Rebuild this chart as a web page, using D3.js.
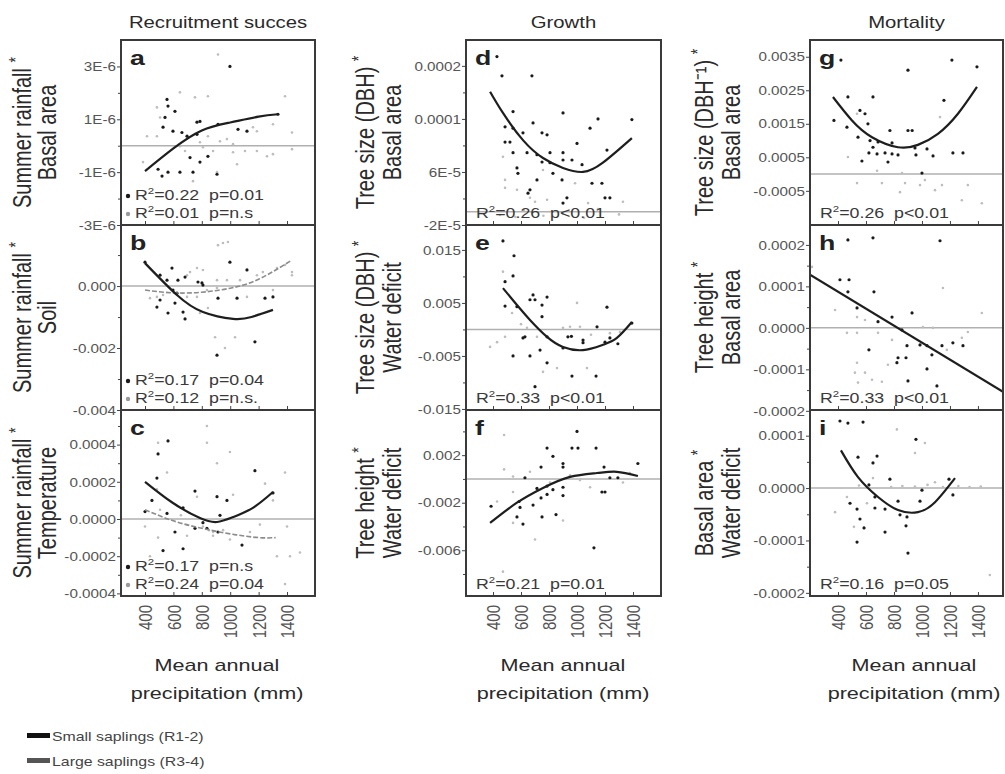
<!DOCTYPE html>
<html>
<head>
<meta charset="utf-8">
<script src="https://cdn.jsdelivr.net/npm/d3@7"></script>
<style>
  body { margin: 0; background: #fff; }
  svg { display: block; font-family: "Liberation Sans", Arial, sans-serif; }
</style>
</head>
<body>
<div id="chart"></div>
<script>
// ---- data: [mean annual precipitation (mm), coefficient] ----
var aSmall = [[998,3.0e-6],[555,1.75e-6],[562,1.5e-6],[611,1.3e-6],[541,1.07e-6],[527,0.7e-6],[597,0.55e-6],[660,0.5e-6],[787,0.92e-6],[766,0.89e-6],[914,0.81e-6],[1055,0.62e-6],[1118,0.55e-6],[1336,1.19e-6],[492,-0.89e-6],[520,-1.15e-6],[562,-1.0e-6],[646,-1.0e-6],[738,-1.0e-6],[717,-0.45e-6],[787,-0.62e-6],[843,-0.4e-6],[907,-1.08e-6],[696,0.36e-6],[766,0.43e-6]];
var aLarge = [[914,3.45e-6],[646,2.02e-6],[752,1.83e-6],[843,1.87e-6],[1386,1.87e-6],[484,1.45e-6],[506,1.07e-6],[414,0.36e-6],[484,0.36e-6],[843,0.36e-6],[977,0.25e-6],[1160,0.7e-6],[1188,0.55e-6],[1301,0.81e-6],[1435,0.5e-6],[386,-0.62e-6],[682,-0.2e-6],[808,-0.06e-6],[879,-0.2e-6],[1020,-0.25e-6],[1104,-0.2e-6],[1188,-0.2e-6],[1259,-0.4e-6],[1301,-0.32e-6],[1435,-0.13e-6],[1048,-0.7e-6],[907,-1.0e-6],[738,-1.34e-6],[1020,0.06e-6],[928,0.17e-6],[787,0.13e-6],[646,-0.02e-6]];
var aFitSmall = [[400,-0.96e-6],[600,-0.1e-6],[800,0.58e-6],[1000,0.88e-6],[1200,1.1e-6],[1336,1.19e-6]];

var bSmall = [[400,0.00077],[590,0.00058],[506,0.00035],[555,0.00019],[632,0.00019],[682,0.00029],[773,0.00013],[808,0.00003],[998,0.00077],[1118,0.00052],[597,-0.00013],[625,-0.00023],[484,-0.00068],[506,-0.00045],[562,-0.00087],[668,-0.00084],[682,-0.00106],[611,-0.00055],[914,-0.00039],[1048,-0.00039],[1245,-0.00039],[1301,-0.00035],[1174,-0.0018],[907,-0.00223],[801,0.0001]];
var bLarge = [[949,0.00139],[984,0.00142],[914,0.00132],[1435,0.00045],[1435,0.00035],[717,0.00045],[766,0.00058],[808,0.00052],[696,0.00035],[907,0.00019],[977,0.00019],[1069,0.00019],[1188,0.00035],[1230,0.00045],[1329,0.00058],[1386,0.00068],[435,-0.00039],[484,-0.00035],[527,-0.00029],[696,-0.00035],[766,-0.00035],[836,-0.00013],[907,-0.00006],[1118,-0.00035],[1301,-0.00013],[843,-0.00071],[893,-0.00165],[963,-0.002],[1034,-0.00165],[787,-0.00087]];
var bFitSmall = [[400,0.00074],[625,-0.00029],[808,-0.00084],[1020,-0.00106],[1150,-0.001],[1301,-0.00077]];
var bFitLarge = [[400,-0.00013],[600,-0.00022],[800,-0.0002],[1000,-0.00007],[1200,0.00022],[1435,0.00084]];

var cSmall = [[492,0.00035],[484,0.00022],[449,0.0001],[400,0.00004],[555,0.00003],[668,0.00006],[752,0.00015],[907,0.00012],[977,0.0001],[928,0.00002],[1174,0.00026],[1301,0.00014],[611,-0.00007],[752,-0.00005],[808,-0.00002],[668,-0.00016],[527,-0.00017],[1083,-0.00014],[836,-0.00005],[914,-0.00007],[562,0.00042]];
var cLarge = [[492,0.00041],[836,0.0005],[836,0.00041],[998,0.00036],[907,0.0003],[555,0.00025],[1386,0.00025],[1245,0.00019],[484,0.00016],[766,0.00012],[1020,0.00013],[1301,0.0001],[506,0.00005],[653,0.00002],[400,-0.00004],[492,-0.0001],[696,-0.00009],[879,-0.00009],[998,-0.00011],[1139,-0.00007],[1209,-0.00003],[1400,-0.00004],[1421,-0.0002],[1491,-0.00018],[1329,-0.0002],[1386,-0.00035],[435,-0.0002],[808,-0.00004],[850,-0.00006],[880,-0.00007],[950,-0.00006]];
var cFitSmall = [[400,0.0002],[597,0.000086],[787,0.000005],[907,-0.000016],[1020,0.00001],[1160,0.00006],[1301,0.000145]];
var cFitLarge = [[400,0.00005],[600,-0.00001],[800,-0.00005],[1000,-0.00008],[1200,-0.0001],[1320,-0.0001]];

var dSmall = [[428,2.34e-4],[464,2.05e-4],[678,2.05e-4],[900,1.49e-4],[543,1.51e-4],[1150,1.4e-4],[1392,1.39e-4],[1093,1.26e-4],[486,1.28e-4],[686,1.34e-4],[543,1.26e-4],[614,1.19e-4],[750,1.19e-4],[786,1.16e-4],[486,1.05e-4],[521,1.05e-4],[1000,1.03e-4],[1214,9.3e-5],[543,8.9e-5],[643,8.9e-5],[714,8.6e-5],[807,8.9e-5],[900,8.9e-5],[900,7.8e-5],[964,7.8e-5],[750,7.5e-5],[807,7.4e-5],[571,6.6e-5],[1036,7.1e-5],[578,5.8e-5],[828,5.8e-5],[714,4.8e-5],[893,4.8e-5],[1107,4.3e-5],[1178,4.3e-5],[664,3.3e-5],[650,2.8e-5],[928,2.1e-5],[1200,2.1e-5],[1235,2.1e-5],[900,1.3e-5]];
var dLarge = [[471,8.3e-5],[486,4.8e-5],[486,3.6e-5],[571,3.3e-5],[757,6.3e-5],[986,4.3e-5],[786,1.8e-5],[1079,1.3e-5],[1328,1.5e-5],[700,1.5e-5],[664,2.1e-5],[450,-0.5e-5],[560,-0.8e-5],[760,-0.6e-5],[900,-0.3e-5],[1050,-0.9e-5],[1300,-0.4e-5],[620,0.2e-5],[1150,0.4e-5]];
var dFitSmall = [[379,1.81e-4],[471,1.49e-4],[614,1.08e-4],[757,8.1e-5],[900,6.6e-5],[1043,6.0e-5],[1185,7.4e-5],[1392,1.11e-4]];

var eSmall = [[471,0.0167],[550,0.0139],[543,0.0101],[486,0.009],[486,0.0044],[571,0.0043],[664,0.0056],[700,0.0056],[686,0.0065],[786,0.0061],[750,0.0046],[750,0.0024],[628,-0.0014],[614,-0.0016],[786,-0.0014],[900,-0.0035],[935,-0.0014],[960,-0.0013],[1043,-0.002],[1043,-0.0025],[1143,0.0005],[1214,0.0042],[1200,-0.0024],[1235,-0.0016],[1292,-0.0027],[1392,0.0012],[543,-0.005],[664,-0.005],[736,-0.0039],[786,-0.0063],[964,-0.0088],[1136,-0.0088],[700,-0.0108]];
var eLarge = [[471,0.0109],[536,0.0031],[1000,0.005],[950,0.0005],[900,0.0003],[1021,0.0005],[379,-0.0033],[429,-0.0024],[486,-0.0014],[714,-0.0014],[757,-0.008],[857,-0.0073],[1071,-0.0073],[1235,-0.0007],[1307,-0.0005],[643,0.0003],[600,0.001],[1100,-0.001]];
var eFitSmall = [[471,0.0078],[571,0.0046],[664,0.0018],[786,-0.0014],[900,-0.0033],[1043,-0.0039],[1185,-0.0029],[1285,-0.0016],[1392,0.0014]];

var fSmall = [[1000,0.004],[786,0.0026],[964,0.0026],[1007,0.0026],[1136,0.0026],[828,0.0019],[900,0.0013],[1435,0.0013],[743,0.001],[1193,0.001],[900,0.001],[628,0.0001],[1235,0.0001],[1292,0.0001],[900,-0.0007],[828,-0.0009],[714,-0.0008],[786,-0.0006],[900,-0.0014],[1178,-0.0011],[1200,-0.0011],[786,-0.0013],[743,-0.0016],[386,-0.0023],[586,-0.0019],[686,-0.0022],[593,-0.0024],[571,-0.0032],[750,-0.0032],[850,-0.003],[614,-0.0038],[1121,-0.0058]];
var fLarge = [[479,0.0037],[479,0.0008],[543,0.0002],[664,0.0006],[543,-0.0011],[429,-0.0019],[543,-0.0037],[700,-0.0051],[471,-0.0078],[900,-0.0035],[1021,-0.0001],[1093,-0.0007],[1328,-0.0003],[1378,0.0005],[950,0.0003],[807,-0.0003]];
var fFitSmall = [[379,-0.0037],[571,-0.002],[757,-0.00076],[950,0.00017],[1143,0.0005],[1285,0.0006],[1435,0.00025]];

var gSmall = [[421,0.0034],[1214,0.0034],[1393,0.0032],[900,0.0031],[471,0.0023],[650,0.0023],[1157,0.0022],[371,0.0016],[557,0.0019],[593,0.0018],[614,0.0015],[464,0.0014],[771,0.0013],[900,0.0013],[930,0.0013],[543,0.0011],[629,0.001],[686,0.00096],[786,0.00093],[650,0.0008],[621,0.00063],[679,0.0006],[736,0.00063],[786,0.0006],[829,0.00057],[757,0.00036],[571,0.00039],[950,0.00078],[957,0.00057],[1036,0.00075],[1079,0.00054],[1221,0.00063],[1293,0.00063],[1000,0.00003]];
var gLarge = [[536,0.0018],[1129,0.0017],[471,0.00051],[679,0.0001],[857,0.00003],[536,-0.00027],[714,-0.00027],[843,-0.00054],[879,-0.00027],[986,-0.00033],[1093,-0.00048],[1143,-0.00033],[1328,-0.00033],[1285,-0.00078],[1428,-0.00087],[1021,-0.00018]];
var gFitSmall = [[364,0.0023],[500,0.0016],[643,0.0011],[829,0.0008],[971,0.00087],[1114,0.0012],[1257,0.0018],[1393,0.0026]];

var hSmall = [[471,0.000212],[650,0.000217],[1129,0.00021],[414,0.000116],[479,0.000116],[471,0.000087],[657,0.000087],[536,0.000048],[929,0.000036],[786,0.000026],[686,0.000015],[857,-0.000005],[621,-0.000053],[893,-0.000043],[986,-0.000041],[1036,-0.000043],[1071,-0.000065],[1143,-0.000043],[1221,-0.000036],[1293,-0.000043],[829,-0.000072],[886,-0.000072],[821,-0.000084],[1036,-0.000099],[900,-0.000128],[1107,-0.00014]];
var hLarge = [[214,0.000147],[1150,0.000096],[379,0.000043],[536,0.000026],[593,0.000019],[1428,0.000036],[464,-0.000012],[536,-0.000012],[686,-0.000012],[786,-0.000029],[1007,0.000002],[1079,0],[1328,-0.00001],[1285,-0.000024],[1178,-0.000053],[536,-0.000084],[521,-0.000108],[593,-0.000108],[643,-0.000125],[543,-0.000132],[714,-0.00013],[757,-0.000089]];
var hFitSmall = [[200,0.000128],[1579,-0.000154]];

var iSmall = [[414,0.000128],[471,0.000124],[579,0.000126],[957,0.000093],[543,0.000059],[679,0.000061],[650,0.000048],[771,0.000017],[621,0.000006],[664,-0.000017],[486,-0.000029],[536,-0.00004],[664,-0.000038],[736,-0.00004],[829,-0.000025],[843,-0.000051],[893,-0.000055],[986,-0.000025],[1000,-0.000004],[1221,-0.000013],[1193,0.000017],[557,-0.000059],[586,-0.000076],[736,-0.000084],[886,-0.000072],[536,-0.000103],[900,-0.000124]];
var iLarge = [[821,0.000112],[1021,0.000086],[950,0.000067],[464,-0.000017],[379,-0.000046],[514,-0.000074],[607,-0.000029],[650,0.000019],[1093,0.000011],[1485,-0.000166],[550,0.000005],[780,0.000002],[860,0.000004],[950,0.000003],[1040,0.000006],[1150,0.000002],[1260,0.000004],[1340,0.000002],[1420,0.000003]];
var iFitSmall = [[421,0.000072],[543,0.000021],[686,-0.000017],[829,-0.000042],[971,-0.000046],[1093,-0.000027],[1236,0.000019]];

// ---- tick values and labels ----
var xTicks = [400, 600, 800, 1000, 1200, 1400];
var yTickValues = [
  [-3e-6, -1e-6, 1e-6, 3e-6],
  [-0.004, -0.002, 0],
  [-0.0004, -0.0002, 0, 0.0002, 0.0004],
  [-2e-5, 6e-5, 1.4e-4, 2.2e-4],
  [-0.015, -0.005, 0.005, 0.015],
  [-0.006, -0.002, 0.002],
  [-0.0005, 0.0005, 0.0015, 0.0025, 0.0035],
  [-0.0002, -0.0001, 0, 0.0001, 0.0002],
  [-0.0002, -0.0001, 0, 0.0001]
];
var yTickLabels = [
  ["-3E-6", "-1E-6", "1E-6", "3E-6"],
  ["-0.004", "-0.002", "0.000"],
  ["-0.0004", "-0.0002", "0.0000", "0.0002", "0.0004"],
  ["-2E-5", "6E-5", "0.0001", "0.0002"],
  ["-0.015", "-0.005", "0.005", "0.015"],
  ["-0.006", "-0.002", "0.002"],
  ["-0.0005", "0.0005", "0.0015", "0.0025", "0.0035"],
  ["-0.0002", "-0.0001", "0.0000", "0.0001", "0.0002"],
  ["-0.0002", "-0.0001", "0.0000", "0.0001"]
];
var yMinorTicks = [
  [-2e-6, 0, 2e-6],
  [-0.003, -0.001, 0.001],
  [-0.0003, -0.0001, 0.0001, 0.0003, 0.0005],
  [2e-5, 1e-4, 1.8e-4],
  [-0.01, 0, 0.01],
  [-0.008, -0.004, 0, 0.004],
  [],
  [-0.00015, -0.00005, 0.00005, 0.00015],
  [-0.00015, -0.00005, 0.00005]
];
var yDomains = [
  [-3e-6, 4.0e-6], [-0.004, 0.00197], [-0.000414, 0.000586],
  [-2e-5, 2.59e-4], [-0.0152, 0.0197], [-0.00985, 0.0058],
  [-0.00152, 0.004], [-0.000198, 0.000248], [-0.000206, 0.000149]
];

var panelLetters = ["a", "b", "c", "d", "e", "f", "g", "h", "i"];
var columnTitles = ["Recruitment succes", "Growth", "Mortality"];
var yTitles = [
  ["Summer rainfall", "Basal area"], ["Summer rainfall", "Soil"], ["Summer rainfall", "Temperature"],
  ["Tree size (DBH)", "Basal area"], ["Tree size (DBH)", "Water deficit"], ["Tree height", "Water deficit"],
  ["Tree size (DBH\u207B\u00B9)", "Basal area"], ["Tree height", "Basal area"], ["Basal area", "Water deficit"]
];
var statsSmall = [["0.22", "p=0.01"], ["0.17", "p=0.04"], ["0.17", "p=n.s"],
  ["0.26", "p<0.01"], ["0.33", "p<0.01"], ["0.21", "p=0.01"],
  ["0.26", "p<0.01"], ["0.33", "p<0.01"], ["0.16", "p=0.05"]];
var statsLarge = [["0.01", "p=n.s"], ["0.12", "p=n.s."], ["0.24", "p=0.04"]];
var legendLabels = ["Small saplings (R1-2)", "Large saplings (R3-4)"];

var smallSeries = [aSmall, bSmall, cSmall, dSmall, eSmall, fSmall, gSmall, hSmall, iSmall];
var largeSeries = [aLarge, bLarge, cLarge, dLarge, eLarge, fLarge, gLarge, hLarge, iLarge];
var fitSmall = [aFitSmall, bFitSmall, cFitSmall, dFitSmall, eFitSmall, fFitSmall, gFitSmall, hFitSmall, iFitSmall];
var fitLarge = [null, bFitLarge, cFitLarge, null, null, null, null, null, null];

// ---- layout ----
var svgWidth = 1005, svgHeight = 774;
var SX = 1.27; // text in the source figure is stretched horizontally
var colLeft = [121, 466, 810], colRight = [315, 661, 1003];
var rowTop = [40, 225, 410], rowBottom = [225, 410, 596];
var xDomains = [[231, 1597], [207, 1600], [200, 1579]];
var yTitleX = [[22, 47], [365, 392], [704, 731]];
var xTitleX = [217, 563, 914];

var svg = d3.select("#chart").append("svg")
  .attr("width", svgWidth)
  .attr("height", svgHeight);

// text helper: horizontally stretched like the source figure
function label(g, x, y, str, o) {
  o = o || {};
  var t = g.append("text")
    .attr("transform", `translate(${x},${y}) scale(${SX},1)` + (o.rotate ? ` rotate(${o.rotate})` : ""))
    .attr("text-anchor", o.anchor || "start")
    .attr("font-size", o.size || 12)
    .attr("fill", o.fill || "#333")
    .style("white-space", "pre");
  if (o.weight) t.attr("font-weight", o.weight);
  if (str != null) t.text(str);
  return t;
}

function statText(g, x, y, r2, p) {
  var t = label(g, x, y, null, { size: 14, fill: "#3a3a3a" });
  t.append("tspan").text("R");
  t.append("tspan").attr("font-size", 9).attr("dy", -6).text("2");
  t.append("tspan").attr("dy", 6).text("=" + r2 + "  " + p);
}

var line = d3.line().curve(d3.curveNatural);

panelLetters.forEach(function(letter, k) {
  var col = Math.floor(k / 3), row = k % 3;
  var x0 = colLeft[col], x1 = colRight[col], y0 = rowTop[row], y1 = rowBottom[row];

  var x = d3.scaleLinear().domain(xDomains[col]).range([x0, x1]);
  var y = d3.scaleLinear().domain(yDomains[k]).range([y1, y0]);

  var g = svg.append("g");
  svg.append("clipPath").attr("id", "clip" + k)
    .append("rect").attr("x", x0).attr("y", y0).attr("width", x1 - x0).attr("height", y1 - y0);

  // zero line
  g.append("line")
    .attr("x1", x0).attr("x2", x1)
    .attr("y1", y(0)).attr("y2", y(0))
    .attr("stroke", "#b0b0b0").attr("stroke-width", 1.5);

  var plot = g.append("g").attr("clip-path", `url(#clip${k})`);

  plot.selectAll("circle.large")
    .data(largeSeries[k])
    .enter().append("circle")
    .attr("class", "large")
    .attr("cx", d => x(d[0]))
    .attr("cy", d => y(d[1]))
    .attr("r", 1.3)
    .attr("fill", "#bdbdbd");

  plot.selectAll("circle.small")
    .data(smallSeries[k])
    .enter().append("circle")
    .attr("class", "small")
    .attr("cx", d => x(d[0]))
    .attr("cy", d => y(d[1]))
    .attr("r", 1.6)
    .attr("fill", "#1a1a1a");

  line.x(d => x(d[0])).y(d => y(d[1]));

  if (fitLarge[k]) {
    plot.append("path")
      .attr("d", line(fitLarge[k]))
      .attr("fill", "none")
      .attr("stroke", "#8c8c8c")
      .attr("stroke-width", 1.6)
      .attr("stroke-dasharray", "5,2");
  }
  plot.append("path")
    .attr("d", line(fitSmall[k]))
    .attr("fill", "none")
    .attr("stroke", "#1e1e1e")
    .attr("stroke-width", 2.2);

  // y axis: major and minor ticks
  var yAxis = g.append("g")
    .attr("transform", `translate(${x0},0)`)
    .call(d3.axisLeft(y).tickValues(yTickValues[k]).tickFormat((d, i) => yTickLabels[k][i]).tickSize(4).tickPadding(0));
  yAxis.select(".domain").remove();
  yAxis.selectAll("line").attr("stroke", "#444");
  yAxis.selectAll("text")
    .attr("x", -5 / SX)
    .attr("dy", "0.35em")
    .attr("transform", `scale(${SX},1)`)
    .attr("font-size", 12)
    .attr("font-family", "Liberation Sans, Arial, sans-serif")
    .attr("fill", "#555");

  var yMinor = g.append("g")
    .attr("transform", `translate(${x0},0)`)
    .call(d3.axisLeft(y).tickValues(yMinorTicks[k]).tickFormat("").tickSize(3));
  yMinor.select(".domain").remove();
  yMinor.selectAll("line").attr("stroke", "#444");

  // x axis: inward ticks on every panel, labels on the bottom row
  var xAxis = g.append("g")
    .attr("transform", `translate(0,${y1})`)
    .call(d3.axisBottom(x).tickValues(xTicks).tickSize(-4).tickFormat(row === 2 ? d3.format("d") : ""));
  xAxis.select(".domain").remove();
  xAxis.selectAll("line").attr("stroke", "#444");
  if (row === 2) {
    xAxis.selectAll("text")
      .attr("transform", `scale(${SX},1) rotate(-90)`)
      .attr("text-anchor", "end")
      .attr("x", -9)
      .attr("y", 0)
      .attr("dy", "0.35em")
      .attr("font-size", 15)
      .attr("font-family", "Liberation Sans, Arial, sans-serif")
      .attr("fill", "#555");
  }

  // panel frame
  g.append("rect")
    .attr("x", x0).attr("y", y0)
    .attr("width", x1 - x0).attr("height", y1 - y0)
    .attr("fill", "none")
    .attr("stroke", "#3a3a3a")
    .attr("stroke-width", 2);

  // panel letter
  label(g, x0 + 9, y0 + 25, letter, { size: 21, weight: "bold", fill: "#222" });

  // statistics
  if (col === 0) {
    g.append("circle").attr("cx", x0 + 7).attr("cy", y1 - 29).attr("r", 2.2).attr("fill", "#1a1a1a");
    statText(g, x0 + 14, y1 - 25, statsSmall[k][0], statsSmall[k][1]);
    g.append("circle").attr("cx", x0 + 7).attr("cy", y1 - 11).attr("r", 2.2).attr("fill", "#9a9a9a");
    statText(g, x0 + 14, y1 - 7, statsLarge[k][0], statsLarge[k][1]);
  } else {
    statText(g, x0 + 10, y1 - 7, statsSmall[k][0], statsSmall[k][1]);
  }

  // y axis title (two rotated lines)
  var yc = (y0 + y1) / 2;
  var t1 = label(g, yTitleX[col][0] + 9, yc, null, { size: 20, rotate: -90, anchor: "middle", fill: "#2a2a2a" });
  t1.append("tspan").text(yTitles[k][0] + " ");
  t1.append("tspan").attr("font-size", 14).attr("dy", -7).text("*");
  label(g, yTitleX[col][1] + 9, yc, yTitles[k][1], { size: 20, rotate: -90, anchor: "middle", fill: "#2a2a2a" });
});

// column titles
columnTitles.forEach(function(t, c) {
  label(svg, (colLeft[c] + colRight[c]) / 2, 28, t, { size: 16, anchor: "middle", fill: "#2a2a2a" });
  label(svg, xTitleX[c], 671, "Mean annual", { size: 17, anchor: "middle", fill: "#2a2a2a" });
  label(svg, xTitleX[c], 699, "precipitation (mm)", { size: 17, anchor: "middle", fill: "#2a2a2a" });
});

// legend
var legendColors = ["#111", "#555"];
legendLabels.forEach(function(t, i) {
  svg.append("rect")
    .attr("x", 27).attr("y", 733 + i * 25)
    .attr("width", 23).attr("height", 5)
    .attr("fill", legendColors[i]);
  label(svg, 52, 741 + i * 25, t, { size: 12.5, fill: "#444" });
});
</script>
</body>
</html>
